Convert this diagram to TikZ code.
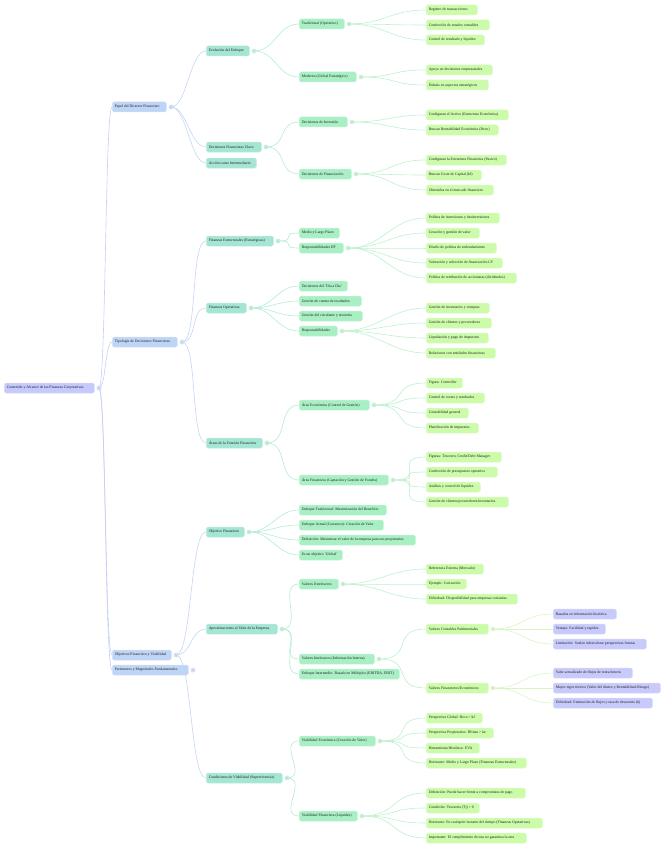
\documentclass[tikz,border=0pt]{standalone}
\usepackage{fontspec}
\setmainfont{Liberation Serif}
\definecolor{rootc}{HTML}{C5C9FB}
\definecolor{lAc}{HTML}{BFD5F5}
\definecolor{lBc}{HTML}{A5E5D3}
\definecolor{lCc}{HTML}{A8EFC4}
\definecolor{lDc}{HTML}{CCFBAA}
\definecolor{lEc}{HTML}{C7CAFA}
\definecolor{eAc}{HTML}{C6CFF6}
\definecolor{eBc}{HTML}{C4D6F5}
\definecolor{eCc}{HTML}{B4EBD3}
\definecolor{eDc}{HTML}{BDF0CC}
\definecolor{eEc}{HTML}{D6F6C2}
\definecolor{txtc}{HTML}{1E1E1E}
\newcommand{\mfont}{\fontsize{3.8}{4.4}\selectfont}
\tikzset{
  box/.style={anchor=west, rounded corners=1.5pt, minimum height=10pt, inner xsep=2.5pt, inner ysep=0pt, font=\mfont, text=txtc, line width=0.5pt},
  rootn/.style={box, fill=rootc, draw=rootc!70!white},
  lAn/.style={box, fill=lAc, draw=lAc!70!white},
  lBn/.style={box, fill=lBc, draw=lBc!70!white},
  lCn/.style={box, fill=lCc, draw=lCc!70!white},
  lDn/.style={box, fill=lDc, draw=lDc!70!white},
  lEn/.style={box, fill=lEc, draw=lEc!70!white},
  edgeA/.style={draw=eAc, line width=0.6pt, out=0, in=180, distance=7pt},
  edgeB/.style={draw=eBc, line width=0.6pt, out=0, in=180, distance=16pt},
  edgeC/.style={draw=eCc, line width=0.6pt, out=0, in=180, distance=22pt},
  edgeD/.style={draw=eDc, line width=0.6pt, out=0, in=180, distance=36pt},
  edgeE/.style={draw=eEc, line width=0.6pt, out=0, in=180, distance=30pt},
}
% style, name, x1, x2, y, text
\newcommand{\mnode}[6]{\node[#1] (#2) at (#3,#5) {\makebox[\dimexpr#4pt-#3pt-5pt\relax][l]{#6}};}
% name, colour
\newcommand{\mdot}[2]{\coordinate (d#1) at ([xshift=4.5pt]#1.east);
  \filldraw[draw=#2, fill=#2!45!white, line width=0.5pt] (d#1) circle (2.1pt);
  \fill[#2!60!black] (d#1) circle (0.6pt);}
\begin{document}
\begin{tikzpicture}[x=1pt,y=-1pt]
\useasboundingbox (0,0) rectangle (670,848);
% ---------- nodes
\mnode{rootn}{root}{4}{94}{388}{Contenido y Alcance de las Finanzas Corporativas}
\mnode{lAn}{papel}{112}{166}{107}{Papel del Director Financiero}
\mnode{lAn}{tipo}{112}{177}{342}{Tipología de Decisiones Financieras}
\mnode{lAn}{objv}{112}{171}{655}{Objetivos Financiero y Viabilidad}
% level 2
\mnode{lBn}{evol}{206}{249}{51}{Evolución del Enfoque}
\mnode{lBn}{dfc}{206}{261}{147}{Decisiones Financieras Clave}
\mnode{lBn}{accion}{206}{256}{163}{Acción como Intermediario}
\mnode{lBn}{fest}{206}{273}{241}{Finanzas Estructurales (Estratégicas)}
\mnode{lBn}{fop}{206}{246}{308}{Finanzas Operativas}
\mnode{lBn}{areas}{206}{262}{443}{Áreas de la Función Financiera}
\mnode{lBn}{objf}{206}{244}{532}{Objetivo Financiero}
\mnode{lBn}{aprox}{206}{277}{629}{Aproximaciones al Valor de la Empresa}
\mnode{lBn}{cond}{206}{282}{778}{Condiciones de Viabilidad (Supervivencia)}
% level 3
\mnode{lCn}{trad}{299}{344}{24}{Tradicional (Operativo)}
\mnode{lCn}{mod}{299}{356}{77}{Moderno (Global Estratégico)}
\mnode{lCn}{dinv}{299}{347}{122}{Decisiones de Inversión}
\mnode{lCn}{dfin}{299}{351}{174}{Decisiones de Financiación}
\mnode{lCn}{mlp}{299}{339}{233}{Medio y Largo Plazo}
\mnode{lCn}{rdf}{299}{343}{248}{Responsabilidades DF}
\mnode{lCn}{dia}{299}{347}{286}{Decisiones del 'Día a Día'}
\mnode{lCn}{gcr}{299}{361}{301}{Gestión de cuenta de resultados}
\mnode{lCn}{gct}{299}{362}{316}{Gestión del circulante y tesorería}
\mnode{lCn}{resp}{299}{337}{331}{Responsabilidades}
\mnode{lCn}{aeco}{299}{369}{405}{Área Económica (Control de Gestión)}
\mnode{lCn}{afin}{299}{388}{480}{Área Financiera (Captación y Gestión de Fondos)}
\mnode{lCn}{etrad}{299}{386}{510}{Enfoque Tradicional: Maximización del Beneficio}
\mnode{lCn}{eact}{299}{383}{525}{Enfoque Actual (Consenso): Creación de Valor}
\mnode{lCn}{defi}{299}{415}{540}{Definición: Maximizar el valor de la empresa para sus propietarios}
\mnode{lCn}{glob}{299}{342}{555}{Es un objetivo 'Global'}
\mnode{lCn}{vext}{299}{338}{584}{Valores Extrínsecos}
\mnode{lCn}{vint}{299}{374}{659}{Valores Intrínsecos (Información Interna)}
\mnode{lCn}{einter}{299}{399}{674}{Enfoque Intermedio: Basado en Múltiplos (EBITDA, EBIT)}
\mnode{lCn}{veco}{299}{375}{741}{Viabilidad Económica (Creación de Valor)}
\mnode{lCn}{vfin}{299}{357}{816}{Viabilidad Financiera (Liquidez)}
% level 4
\mnode{lDn}{t1}{426}{477}{10}{Registro de transacciones}
\mnode{lDn}{t2}{426}{489}{25}{Confección de estados contables}
\mnode{lDn}{t3}{426}{484}{40}{Control de resultado y liquidez}
\mnode{lDn}{m1}{426}{492}{70}{Apoyo en decisiones empresariales}
\mnode{lDn}{m2}{426}{488}{85}{Énfasis en aspectos estratégicos}
\mnode{lDn}{i1}{426}{508}{115}{Configuran el Activo (Estructura Económica)}
\mnode{lDn}{i2}{426}{498}{130}{Buscan Rentabilidad Económica (Reco)}
\mnode{lDn}{f1}{426}{506}{160}{Configuran la Estructura Financiera (Pasivo)}
\mnode{lDn}{f2}{426}{481}{175}{Buscan Coste de Capital (kf)}
\mnode{lDn}{f3}{426}{493}{190}{Obtenidos en el mercado financiero}
\mnode{lDn}{r1}{426}{499}{218}{Política de inversiones y desinversiones}
\mnode{lDn}{r2}{426}{479}{233}{Creación y gestión de valor}
\mnode{lDn}{r3}{426}{496}{248}{Diseño de política de endeudamiento}
\mnode{lDn}{r4}{426}{502}{263}{Valoración y selección de financiación LP}
\mnode{lDn}{r5}{426}{516}{278}{Política de retribución de accionistas (dividendos)}
\mnode{lDn}{s1}{426}{489}{308}{Gestión de inventarios y compras}
\mnode{lDn}{s2}{426}{491}{323}{Gestión de clientes y proveedores}
\mnode{lDn}{s3}{426}{488}{338}{Liquidación y pago de impuestos}
\mnode{lDn}{s4}{426}{495}{353}{Relaciones con entidades financieras}
\mnode{lDn}{a1}{426}{462}{383}{Figura: Controller}
\mnode{lDn}{a2}{426}{484}{398}{Control de costes y resultados}
\mnode{lDn}{a3}{426}{468}{413}{Contabilidad general}
\mnode{lDn}{a4}{426}{478}{428}{Planificación de impuestos}
\mnode{lDn}{b1}{426}{501}{457}{Figuras: Tesorero, Credit/Debt Manager}
\mnode{lDn}{b2}{426}{497}{472}{Confección de presupuesto operativo}
\mnode{lDn}{b3}{426}{480}{487}{Análisis y control de liquidez}
\mnode{lDn}{b4}{426}{508}{502}{Gestión de clientes/proveedores/inventarios}
\mnode{lDn}{x1}{426}{483}{569}{Referencia Externa (Mercado)}
\mnode{lDn}{x2}{426}{466}{584}{Ejemplo: Cotización}
\mnode{lDn}{x3}{426}{517}{599}{Dificultad: Disponibilidad para empresas cotizadas}
\mnode{lDn}{vcp}{426}{488}{629}{Valores Contables Patrimoniales}
\mnode{lDn}{vfe}{426}{488}{688}{Valores Financieros/Económicos}
\mnode{lDn}{c1}{426}{482}{718}{Perspectiva Global: Reco > kf}
\mnode{lDn}{c2}{426}{493}{733}{Perspectiva Propietarios: Rfinan > ke}
\mnode{lDn}{c3}{426}{479}{748}{Herramienta Histórica: EVA}
\mnode{lDn}{c4}{426}{526}{763}{Horizonte: Medio y Largo Plazo (Finanzas Estructurales)}
\mnode{lDn}{q1}{426}{525}{793}{Definición: Puede hacer frente a compromisos de pago}
\mnode{lDn}{q2}{426}{479}{808}{Condición: Tesorería (Tj) > 0}
\mnode{lDn}{q3}{426}{542}{823}{Horizonte: En cualquier instante del tiempo (Finanzas Operativas)}
\mnode{lDn}{q4}{426}{526}{838}{Importante: El cumplimiento de una no garantiza la otra}
% level 5
\mnode{lEn}{p1}{553}{616}{614}{Basados en información histórica}
\mnode{lEn}{p2}{553}{605}{629}{Ventaja: Facilidad y rapidez}
\mnode{lEn}{p3}{553}{646}{644}{Limitación: Suelen infravalorar perspectivas futuras}
\mnode{lEn}{g1}{553}{632}{673}{Valor actualizado de flujos de renta futuros}
\mnode{lEn}{g2}{553}{660}{688}{Mayor rigor técnico (Valor del dinero y Rentabilidad-Riesgo)}
\mnode{lEn}{g3}{553}{652}{703}{Dificultad: Estimación de flujos y tasa de descuento (k)}
% ---------- connectors
\coordinate (droot) at ([xshift=4.5pt]root.east);
\foreach \c in {papel,tipo,objv}{\draw[edgeA] (droot) to (\c.west);}
\coordinate (dpapel) at ([xshift=4.5pt]papel.east);
\coordinate (dtipo) at ([xshift=4.5pt]tipo.east);
\coordinate (dobjv) at ([xshift=4.5pt]objv.east);
\foreach \c in {evol,dfc,accion}{\draw[edgeB] (dpapel) to (\c.west);}
\foreach \c in {fest,fop,areas}{\draw[edgeB] (dtipo) to (\c.west);}
\foreach \c in {objf,aprox,cond}{\draw[edgeB] (dobjv) to (\c.west);}
\mnode{lAn}{param}{112}{188}{670}{Parámetros y Magnitudes Fundamentales}
\draw[edgeA] (droot) to (param.west);
\foreach \p/\cs in {evol/{trad,mod}, dfc/{dinv,dfin}, fest/{mlp,rdf}, fop/{dia,gcr,gct,resp}, areas/{aeco,afin}, objf/{etrad,eact,defi,glob}, aprox/{vext,vint,einter}, cond/{veco,vfin}}{
  \coordinate (dd) at ([xshift=4.5pt]\p.east);
  \foreach \c in \cs {\draw[edgeC] (dd) to (\c.west);}
}
\foreach \p/\cs in {trad/{t1,t2,t3}, mod/{m1,m2}, dinv/{i1,i2}, dfin/{f1,f2,f3}, rdf/{r1,r2,r3,r4,r5}, resp/{s1,s2,s3,s4}, aeco/{a1,a2,a3,a4}, afin/{b1,b2,b3,b4}, vext/{x1,x2,x3}, vint/{vcp,vfe}, veco/{c1,c2,c3,c4}, vfin/{q1,q2,q3,q4}}{
  \coordinate (dd) at ([xshift=4.5pt]\p.east);
  \foreach \c in \cs {\draw[edgeD] (dd) to (\c.west);}
}
\foreach \p/\cs in {vcp/{p1,p2,p3}, vfe/{g1,g2,g3}}{
  \coordinate (dd) at ([xshift=4.5pt]\p.east);
  \foreach \c in \cs {\draw[edgeE] (dd) to (\c.west);}
}
% ---------- dots
\mdot{root}{eAc}
\foreach \n in {papel,tipo,objv,param}{\mdot{\n}{eBc}}
\foreach \n in {evol,dfc,fest,fop,areas,objf,aprox,cond}{\mdot{\n}{eCc}}
\foreach \n in {trad,mod,dinv,dfin,rdf,resp,aeco,afin,vext,vint,veco,vfin}{\mdot{\n}{eDc}}
\foreach \n in {vcp,vfe}{\mdot{\n}{eEc}}
\end{tikzpicture}
\end{document}
